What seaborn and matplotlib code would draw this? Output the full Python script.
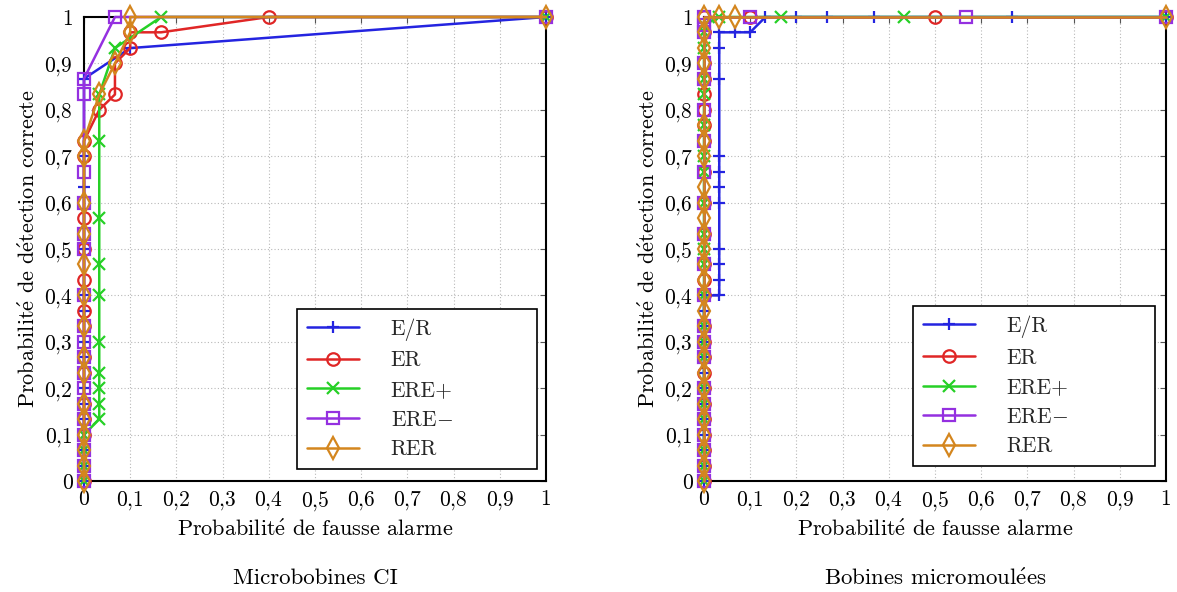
import matplotlib
matplotlib.use("Agg")
import matplotlib.pyplot as plt
import seaborn as sns
import numpy as np

# ---------------- data ----------------
series_names = ["E/R", "ER", "ERE+", "ERE\u2212", "RER"]
colors = ["#2424e0", "#e02626", "#26d026", "#9430e0", "#d4861e"]
markers = ["+", "o", "x", "s", "d"]
hollow = [False, True, False, True, True]

# Left: Microbobines CI
L_er_slash_x = [0, 0, 0, 0, 0, 0, 0, 0, 0, 0, 0, 0, 0, 0, 0.1, 1]
L_er_slash_y = [0, 0.033, 0.067, 0.133, 0.167, 0.2, 0.267, 0.3, 0.367, 0.4, 0.5, 0.633, 0.7, 0.867, 0.933, 1]

L_er_x = [0, 0, 0, 0, 0, 0, 0, 0, 0, 0, 0, 0, 0, 0.033, 0.067, 0.067, 0.1, 0.1, 0.167, 0.4, 1]
L_er_y = [0, 0.1, 0.133, 0.167, 0.233, 0.267, 0.333, 0.367, 0.433, 0.5, 0.567, 0.7, 0.733,
          0.8, 0.833, 0.9, 0.933, 0.967, 0.967, 1, 1]

L_erep_x = [0, 0, 0, 0, 0.033, 0.033, 0.033, 0.033, 0.033, 0.033, 0.033, 0.033, 0.033, 0.033, 0.067, 0.167, 1]
L_erep_y = [0, 0.033, 0.067, 0.1, 0.133, 0.167, 0.2, 0.233, 0.3, 0.4, 0.467, 0.567, 0.733, 0.833, 0.933, 1, 1]

L_erem_x = [0, 0, 0, 0, 0, 0, 0, 0, 0, 0, 0, 0, 0, 0, 0, 0, 0, 0, 0.067, 1]
L_erem_y = [0, 0.033, 0.067, 0.1, 0.133, 0.167, 0.2, 0.233, 0.267, 0.3, 0.333, 0.4, 0.5, 0.533,
            0.6, 0.667, 0.833, 0.867, 1, 1]

L_rer_x = [0, 0, 0, 0, 0, 0, 0, 0, 0, 0, 0, 0, 0, 0, 0, 0.033, 0.067, 0.1, 0.1, 1]
L_rer_y = [0, 0.033, 0.067, 0.1, 0.133, 0.167, 0.233, 0.267, 0.333, 0.4, 0.467, 0.533, 0.6, 0.7,
           0.733, 0.833, 0.9, 0.967, 1, 1]

# Right: Bobines micromoulées
R_er_slash_x = [0, 0, 0, 0, 0, 0, 0, 0, 0, 0, 0, 0, 0,
                0.033, 0.033, 0.033, 0.033, 0.033, 0.033, 0.033, 0.033, 0.033, 0.033, 0.033,
                0.067, 0.1, 0.133, 0.2, 0.267, 0.367, 0.667, 1]
R_er_slash_y = [0, 0.033, 0.067, 0.1, 0.133, 0.167, 0.2, 0.233, 0.267, 0.3, 0.333, 0.367, 0.4,
                0.4, 0.433, 0.467, 0.5, 0.6, 0.633, 0.667, 0.7, 0.867, 0.933, 0.967,
                0.967, 0.967, 1, 1, 1, 1, 1, 1]

R_er_x = [0, 0, 0, 0, 0, 0, 0, 0, 0, 0, 0, 0, 0, 0, 0, 0, 0, 0, 0, 0, 0, 0, 0, 0, 0, 0.1, 0.5, 1]
R_er_y = [0, 0.033, 0.067, 0.1, 0.133, 0.167, 0.2, 0.233, 0.267, 0.3, 0.333, 0.4, 0.433, 0.467,
          0.533, 0.6, 0.667, 0.733, 0.767, 0.8, 0.833, 0.867, 0.9, 0.967, 1, 1, 1, 1]

R_erep_x = [0, 0, 0, 0, 0, 0, 0, 0, 0, 0, 0, 0, 0, 0, 0, 0, 0, 0, 0, 0, 0, 0, 0.033, 0.167, 0.433, 1]
R_erep_y = [0, 0.033, 0.067, 0.133, 0.167, 0.2, 0.267, 0.3, 0.333, 0.4, 0.467, 0.5, 0.533, 0.6,
            0.667, 0.7, 0.767, 0.833, 0.867, 0.933, 0.967, 0.983, 1, 1, 1, 1]

R_erem_x = [0, 0, 0, 0, 0, 0, 0, 0, 0, 0, 0, 0, 0, 0, 0, 0, 0, 0, 0, 0, 0, 0, 0.1, 0.567, 1]
R_erem_y = [0, 0.033, 0.067, 0.1, 0.133, 0.167, 0.2, 0.267, 0.3, 0.333, 0.4, 0.467, 0.533, 0.6,
            0.667, 0.733, 0.8, 0.867, 0.9, 0.967, 0.983, 1, 1, 1, 1]

R_rer_x = [0, 0, 0, 0, 0, 0, 0, 0, 0, 0, 0, 0, 0, 0, 0, 0, 0, 0, 0, 0, 0, 0, 0, 0, 0, 0,
           0, 0, 0.033, 0.067, 1]
R_rer_y = [0, 0.033, 0.067, 0.1, 0.133, 0.167, 0.2, 0.233, 0.267, 0.3, 0.333, 0.367, 0.4, 0.433,
           0.467, 0.5, 0.533, 0.567, 0.6, 0.633, 0.7, 0.733, 0.767, 0.867, 0.9, 0.933, 0.967,
           1, 1, 1, 1]

tick_vals = [0, 0.1, 0.2, 0.3, 0.4, 0.5, 0.6, 0.7, 0.8, 0.9, 1]
tick_labels = ["0", "0,1", "0,2", "0,3", "0,4", "0,5", "0,6", "0,7", "0,8", "0,9", "1"]

x_label = "Probabilité de fausse alarme"
y_label = "Probabilité de détection correcte"
captions = ["Microbobines CI", "Bobines micromoulées"]

panels = [
    [(L_er_slash_x, L_er_slash_y), (L_er_x, L_er_y), (L_erep_x, L_erep_y),
     (L_erem_x, L_erem_y), (L_rer_x, L_rer_y)],
    [(R_er_slash_x, R_er_slash_y), (R_er_x, R_er_y), (R_erep_x, R_erep_y),
     (R_erem_x, R_erem_y), (R_rer_x, R_rer_y)],
]


def tex(s):
    """Render accented letters / minus with Computer Modern mathtext."""
    s = s.replace("é", r"$\acute{\mathrm{e}}$")
    s = s.replace("\u2212", r"$-$")
    s = s.replace(",", r"${,}$")
    return s


# ---------------- style ----------------
sns.set_theme(style="white")
plt.rcParams["font.family"] = ["cmr10", "DejaVu Serif"]
plt.rcParams["mathtext.fontset"] = "cm"
plt.rcParams["axes.unicode_minus"] = False

fig = plt.figure(figsize=(11.77, 5.92), dpi=100)
ax_lefts = [84 / 1177, 704 / 1177]
ax_w = 462 / 1177
ax_b = (592 - 481) / 592
ax_h = 464 / 592
leg_boxes = [(0.461, 0.026, 0.52, 0.34), (0.452, 0.032, 0.524, 0.345)]

for pi, data in enumerate(panels):
    ax = fig.add_axes([ax_lefts[pi], ax_b, ax_w, ax_h])
    for i, (xs, ys) in enumerate(data):
        c = colors[i]
        kw = dict(marker=markers[i], markersize=9 if markers[i] != "d" else 11,
                  markeredgewidth=1.6, markeredgecolor=c,
                  markerfacecolor="none" if hollow[i] else c)
        sns.lineplot(x=xs, y=ys, ax=ax, sort=False, estimator=None, color=c,
                     linewidth=1.8, label=tex(series_names[i]), clip_on=False,
                     zorder=3 + i, **kw)
    ax.set_xlim(0, 1)
    ax.set_ylim(0, 1)
    ax.set_xticks(tick_vals)
    ax.set_yticks(tick_vals)
    ax.set_xticklabels([tex(t) for t in tick_labels], fontsize=15.5)
    ax.set_yticklabels([tex(t) for t in tick_labels], fontsize=15.5)
    ax.tick_params(direction="in", length=4, width=0.8, color="#555555", top=True, right=True,
                   labelcolor="black")
    ax.tick_params(axis="y", pad=8)
    ax.tick_params(axis="x", pad=6)
    ax.grid(True, linestyle=(0, (1, 2)), color="#b8b8b8", linewidth=0.8)
    for s in ax.spines.values():
        s.set_color("black")
        s.set_linewidth(1.5)
    ax.set_xlabel(tex(x_label), fontsize=16, labelpad=4, color="black")
    ax.set_ylabel(tex(y_label), fontsize=16, labelpad=3, color="black")
    leg = ax.legend(loc="lower left", bbox_to_anchor=leg_boxes[pi], mode="expand",
                    fontsize=15.5, frameon=True, fancybox=False,
                    framealpha=1, edgecolor="black", handlelength=2.45, handletextpad=1.45,
                    borderaxespad=0, labelspacing=0.47, borderpad=0.45)
    leg.get_frame().set_linewidth(1.2)
    fig.text(ax_lefts[pi] + ax_w / 2, 1 - 578 / 592, tex(captions[pi]), ha="center",
             va="center", fontsize=16.5, color="black")

fig.savefig("out.png", dpi=100)
